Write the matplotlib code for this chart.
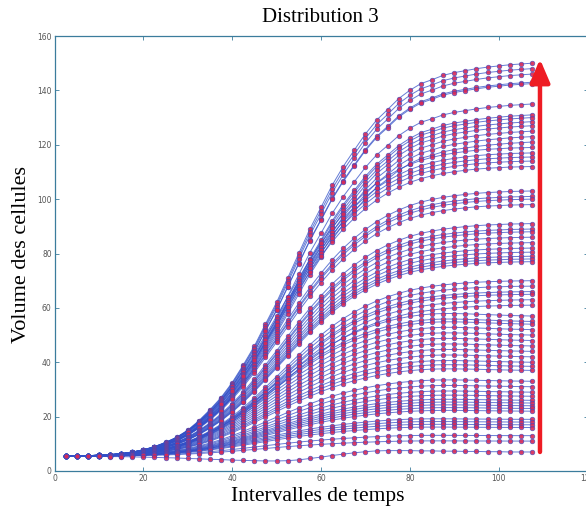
""" Recreates the 'Distribution 3' chart: growth of cell volumes over time.
"""

# ------------------------------------------------------------------------------
# Imports.
# ------------------------------------------------------------------------------

import numpy as np
from matplotlib import pyplot as plt

# ------------------------------------------------------------------------------
# Data.
# ------------------------------------------------------------------------------

# Sampling times of every curve.
time_steps = np.arange(2.5, 108.0, 2.5)

# Common starting volume.
start_volume = 5.5

# Final volume reached by each curve (at the last time step).
final_volumes = [
    150, 148, 146, 143, 142.5,
    135, 131, 130, 128.5, 127, 125, 123, 121, 119, 117, 115.5, 114, 112,
    103, 101, 100, 98,
    91, 89, 88, 86, 84, 82, 80.5, 79, 78, 77,
    70, 68, 66, 65, 63, 61,
    57, 55, 54, 52, 50, 48,
    46, 44, 42, 40, 38.5, 37,
    33, 31, 29, 27.5, 26, 25, 24, 23, 22,
    19, 18, 17, 16, 13, 11,
]

# Fraction of the growth reached at each time step, per band of final volume.
profile_high = [
    0.000, 0.000, 0.001, 0.002, 0.003, 0.006, 0.010, 0.016, 0.024, 0.035,
    0.048, 0.066, 0.090, 0.118, 0.149, 0.187, 0.232, 0.280, 0.336, 0.391,
    0.453, 0.516, 0.578, 0.633, 0.689, 0.737, 0.779, 0.820, 0.855, 0.882,
    0.910, 0.931, 0.948, 0.958, 0.969, 0.976, 0.981, 0.986, 0.990, 0.993,
    0.996, 0.998, 1.000,
]
profile_mid = [
    0.000, 0.000, 0.001, 0.003, 0.005, 0.008, 0.013, 0.020, 0.030, 0.043,
    0.060, 0.082, 0.110, 0.143, 0.181, 0.226, 0.276, 0.332, 0.392, 0.453,
    0.515, 0.577, 0.636, 0.690, 0.740, 0.784, 0.822, 0.855, 0.884, 0.908,
    0.928, 0.945, 0.958, 0.968, 0.976, 0.982, 0.987, 0.991, 0.994, 0.996,
    0.998, 0.999, 1.000,
]
profile_low = [
    0.000, 0.000, 0.002, 0.004, 0.007, 0.011, 0.017, 0.026, 0.038, 0.054,
    0.075, 0.102, 0.135, 0.174, 0.220, 0.272, 0.330, 0.392, 0.456, 0.520,
    0.583, 0.643, 0.698, 0.752, 0.800, 0.843, 0.880, 0.912, 0.940, 0.963,
    0.982, 0.997, 1.008, 1.015, 1.018, 1.018, 1.016, 1.013, 1.010, 1.007,
    1.004, 1.002, 1.000,
]
profile_flat = [
    0.000, 0.000, 0.003, 0.006, 0.010, 0.016, 0.025, 0.037, 0.053, 0.074,
    0.100, 0.132, 0.170, 0.214, 0.264, 0.320, 0.380, 0.443, 0.507, 0.570,
    0.630, 0.686, 0.737, 0.783, 0.825, 0.862, 0.895, 0.925, 0.952, 0.975,
    0.993, 1.005, 1.012, 1.015, 1.015, 1.013, 1.010, 1.008, 1.006, 1.004,
    1.002, 1.001, 1.000,
]

# The lowest curve, which dips before settling.
lowest_curve = [
    5.5, 5.5, 5.4, 5.4, 5.3, 5.3, 5.2, 5.1, 5.0, 4.9,
    4.8, 4.6, 4.5, 4.3, 4.2, 4.0, 3.9, 3.8, 3.7, 3.7,
    3.8, 4.1, 4.6, 5.1, 5.7, 6.2, 6.7, 7.1, 7.4, 7.5,
    7.5, 7.5, 7.4, 7.4, 7.3, 7.3, 7.2, 7.2, 7.1, 7.1,
    7.0, 7.0, 7.0,
]

# Bounds (lower edge) of the final volume for each profile.
profile_bands = [(120, profile_high), (60, profile_mid), (20, profile_low), (0, profile_flat)]

# Texts.
plot_title = "Distribution 3"
x_name = "Intervalles de temps"
y_name = "Volume des cellules"
x_ticks = [0, 20, 40, 60, 80, 100, 120]
y_ticks = [0, 20, 40, 60, 80, 100, 120, 140, 160]

# Arrow showing the direction of the distribution.
arrow_time = 109.3
arrow_from = 7.0
arrow_to = 151.5

# ------------------------------------------------------------------------------
# Plot.
# ------------------------------------------------------------------------------

line_color = "#3250c8"
dot_color = "#d62a58"
axis_color = "#3b7c9c"
serif = ["Liberation Serif", "DejaVu Serif"]

fig = plt.figure(figsize=(5.86, 5.13), dpi=100)
ax = fig.add_axes([54.5 / 586, 42 / 513, 533 / 586, 435 / 513])

# Curves.
curves = []
for final in final_volumes:
    profile = next(p for low, p in profile_bands if final >= low)
    curves.append(start_volume + (final - start_volume) * np.array(profile))
curves.append(np.array(lowest_curve))

for values in curves:
    ax.plot(time_steps, values, color=line_color, lw=0.7, alpha=0.75, zorder=2)
for values in curves:
    ax.plot(time_steps, values, ls="none", marker="o", ms=3.4,
            mfc=dot_color, mec=line_color, mew=0.4, alpha=0.9, zorder=3)

# Arrow.
ax.annotate("", xy=(arrow_time, arrow_to), xytext=(arrow_time, arrow_from),
            arrowprops=dict(arrowstyle="-|>,head_length=0.7,head_width=0.3",
                            color="#ee1c24", lw=3.2, mutation_scale=20,
                            shrinkA=0, shrinkB=0), zorder=4)

# Axes.
ax.set_xlim(0, 120)
ax.set_ylim(0, 160)
ax.set_xticks(x_ticks)
ax.set_yticks(y_ticks)
ax.tick_params(direction="in", length=3, width=0.6, color=axis_color,
               labelsize=5.5, labelcolor="#555555", top=True, right=True, pad=2)
for spine in ax.spines.values():
    spine.set_color(axis_color)
    spine.set_linewidth(0.9)

# Texts.
fig.text(320 / 586, 1 - 18 / 513, plot_title, ha="center", va="center",
         fontsize=15, family=serif)
fig.text(318 / 586, 1 - 497 / 513, x_name, ha="center", va="center",
         fontsize=15.5, family=serif)
fig.text(22 / 586, 1 - 255 / 513, y_name, ha="center", va="center",
         rotation=90, fontsize=16, family=serif)

plt.savefig("out.png", dpi=100)
